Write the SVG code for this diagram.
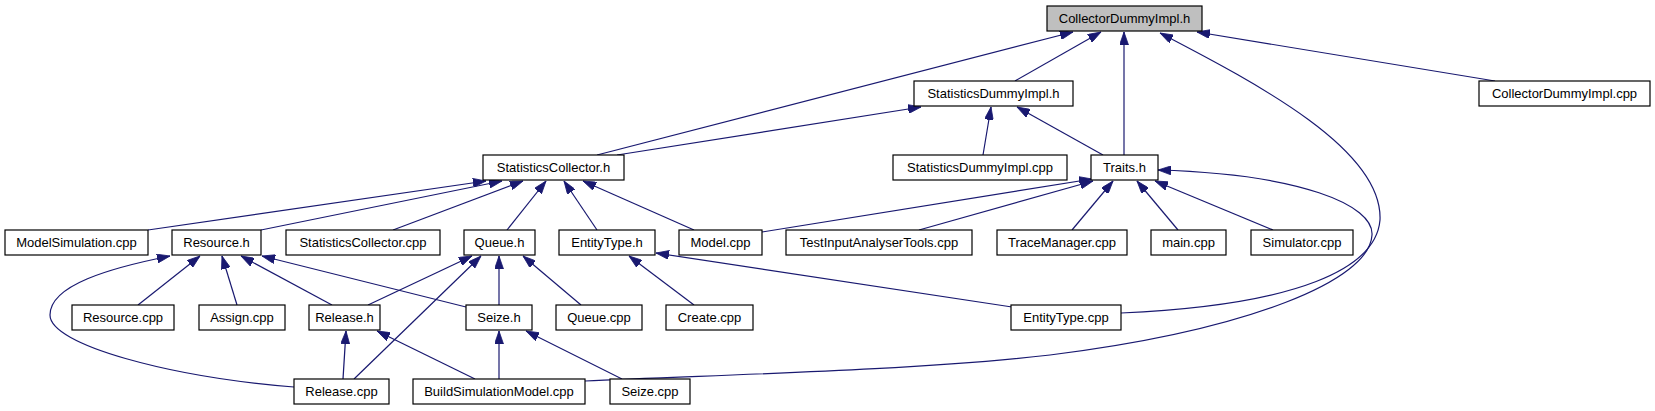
<svg xmlns="http://www.w3.org/2000/svg" width="1655" height="411" viewBox="0 0 1655 411">
<style>
.n rect{fill:#fff;stroke:#000;stroke-width:1.2}
.n.g rect{fill:#bfbfbf}
.n text{font-family:"Liberation Sans",Arial,sans-serif;font-size:13px;fill:#000;text-anchor:middle}
.e path{fill:none;stroke:#191970;stroke-width:1.2;marker-end:url(#a)}
</style>
<defs>
<marker id="a" markerUnits="userSpaceOnUse" markerWidth="13" markerHeight="9" viewBox="0 0 13 9" refX="13" refY="4.5" orient="auto">
<path d="M0,0 L13,4.5 L0,9 z" fill="#191970" stroke="#191970" stroke-width="0.8"/>
</marker>
</defs>
<rect width="1655" height="411" fill="#fff"/>
<g id="edges" class="e">
<path d="M597,155 L1073,32"/>
<path d="M1015,81 L1101,32"/>
<path d="M1124,155 L1124,32"/>
<path d="M1121,313 C1300,305 1376,268 1380,220 C1383,150 1260,85 1160,33"/>
<path d="M1495,81 L1197,32"/>
<path d="M617,155 L921,107"/>
<path d="M983,155 L991,107"/>
<path d="M1103,155 L1017,107"/>
<path d="M148,230 L486,181"/>
<path d="M261,230 L502,181"/>
<path d="M393,230 L523,181"/>
<path d="M507,230 L546,181"/>
<path d="M597,230 L564,181"/>
<path d="M694,230 L583,181"/>
<path d="M762,232 L1092,179"/>
<path d="M919,230 L1093,181"/>
<path d="M1072,230 L1113,181"/>
<path d="M1178,230 L1137,181"/>
<path d="M1273,230 L1155,181"/>
<path d="M585,381 C700,375 900,372 1050,355 C1250,330 1370,280 1372,235 C1374,205 1300,174 1158,170"/>
<path d="M294,387 C170,377 50,345 50,315 C50,285 110,268 170,256"/>
<path d="M138,305 L200,256"/>
<path d="M237,305 L222,256"/>
<path d="M332,305 L241,256"/>
<path d="M466,307 L262,256"/>
<path d="M368,305 L472,256"/>
<path d="M354,379 L481,256"/>
<path d="M499,305 L499,256"/>
<path d="M581,305 L523,256"/>
<path d="M694,305 L629,256"/>
<path d="M1012,307 L656,253"/>
<path d="M343,379 L346,331"/>
<path d="M475,379 L377,331"/>
<path d="M499,379 L499,331"/>
<path d="M622,379 L526,331"/>
</g>
<g id="n_cdih" class="n g"><rect x="1047" y="6" width="155" height="25"/><text x="1124.5" y="23">CollectorDummyImpl.h</text></g>
<g id="n_sdih" class="n"><rect x="914" y="81" width="159" height="25"/><text x="993.5" y="98">StatisticsDummyImpl.h</text></g>
<g id="n_cdicpp" class="n"><rect x="1479" y="81" width="171" height="25"/><text x="1564.5" y="98">CollectorDummyImpl.cpp</text></g>
<g id="n_sch" class="n"><rect x="483" y="155" width="141" height="25"/><text x="553.5" y="172">StatisticsCollector.h</text></g>
<g id="n_sdicpp" class="n"><rect x="893" y="155" width="174" height="25"/><text x="980" y="172">StatisticsDummyImpl.cpp</text></g>
<g id="n_traits" class="n"><rect x="1091" y="155" width="67" height="25"/><text x="1124.5" y="172">Traits.h</text></g>
<g id="n_modelsim" class="n"><rect x="5" y="230" width="143" height="25"/><text x="76.5" y="247">ModelSimulation.cpp</text></g>
<g id="n_resh" class="n"><rect x="172" y="230" width="89" height="25"/><text x="216.5" y="247">Resource.h</text></g>
<g id="n_sccpp" class="n"><rect x="286" y="230" width="154" height="25"/><text x="363" y="247">StatisticsCollector.cpp</text></g>
<g id="n_queueh" class="n"><rect x="464" y="230" width="71" height="25"/><text x="499.5" y="247">Queue.h</text></g>
<g id="n_enth" class="n"><rect x="559" y="230" width="96" height="25"/><text x="607" y="247">EntityType.h</text></g>
<g id="n_model" class="n"><rect x="679" y="230" width="83" height="25"/><text x="720.5" y="247">Model.cpp</text></g>
<g id="n_tiat" class="n"><rect x="786" y="230" width="186" height="25"/><text x="879" y="247">TestInputAnalyserTools.cpp</text></g>
<g id="n_trace" class="n"><rect x="997" y="230" width="130" height="25"/><text x="1062" y="247">TraceManager.cpp</text></g>
<g id="n_main" class="n"><rect x="1151" y="230" width="75" height="25"/><text x="1188.5" y="247">main.cpp</text></g>
<g id="n_sim" class="n"><rect x="1251" y="230" width="102" height="25"/><text x="1302" y="247">Simulator.cpp</text></g>
<g id="n_rescpp" class="n"><rect x="72" y="305" width="102" height="25"/><text x="123" y="322">Resource.cpp</text></g>
<g id="n_assign" class="n"><rect x="199" y="305" width="86" height="25"/><text x="242" y="322">Assign.cpp</text></g>
<g id="n_relh" class="n"><rect x="309" y="305" width="71" height="25"/><text x="344.5" y="322">Release.h</text></g>
<g id="n_seizeh" class="n"><rect x="466" y="305" width="66" height="25"/><text x="499" y="322">Seize.h</text></g>
<g id="n_queuecpp" class="n"><rect x="556" y="305" width="86" height="25"/><text x="599" y="322">Queue.cpp</text></g>
<g id="n_create" class="n"><rect x="666" y="305" width="87" height="25"/><text x="709.5" y="322">Create.cpp</text></g>
<g id="n_entcpp" class="n"><rect x="1011" y="305" width="110" height="25"/><text x="1066" y="322">EntityType.cpp</text></g>
<g id="n_relcpp" class="n"><rect x="294" y="379" width="95" height="25"/><text x="341.5" y="396">Release.cpp</text></g>
<g id="n_build" class="n"><rect x="413" y="379" width="172" height="25"/><text x="499" y="396">BuildSimulationModel.cpp</text></g>
<g id="n_seizecpp" class="n"><rect x="610" y="379" width="80" height="25"/><text x="650" y="396">Seize.cpp</text></g>
</svg>
